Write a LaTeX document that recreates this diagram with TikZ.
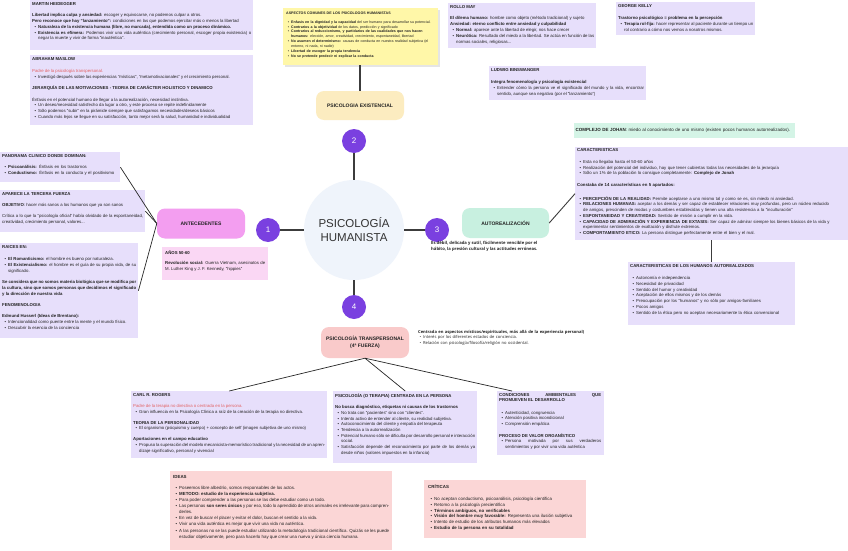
\documentclass[tikz,border=0pt]{standalone}
\usepackage{fontspec}
\setmainfont{Liberation Sans}
\newfontfamily\osans{Open Sans}
\usepackage{enumitem}
\setlist[itemize]{nosep,leftmargin=6pt,labelsep=2pt,label=\textbullet}
\usetikzlibrary{calc}
\definecolor{lav}{RGB}{231,223,251}
\definecolor{orchid}{RGB}{243,158,240}
\definecolor{pinkl}{RGB}{250,215,244}
\definecolor{yelb}{RGB}{252,236,192}
\definecolor{yelp}{RGB}{255,247,168}
\definecolor{mint}{RGB}{200,240,224}
\definecolor{mintl}{RGB}{212,244,230}
\definecolor{salm}{RGB}{249,202,202}
\definecolor{rosel}{RGB}{251,214,214}
\definecolor{purp}{RGB}{122,64,224}
\definecolor{ctrc}{RGB}{239,244,251}
\definecolor{txt}{RGB}{34,34,34}
\definecolor{redt}{RGB}{226,98,98}
\definecolor{lin}{RGB}{60,60,60}
\tikzset{
 boxtext/.style={font=\fontsize{4.3}{5.95}\selectfont, text=txt, align=justify, inner xsep=2pt, inner ysep=2pt, anchor=north west},
 topic/.style={rounded corners=8pt, fill=#1, minimum width=88pt, minimum height=30pt, font=\fontsize{5}{6.5}\selectfont\bfseries, text=txt, align=center, inner sep=0pt},
 num/.style={circle, fill=purp, minimum size=24pt, inner sep=0pt, text=white, font=\fontsize{8}{9}\selectfont},
 link/.style={draw=lin, line width=1.2pt},
 thinlink/.style={draw=black!85, line width=0.7pt},
}
\newcommand{\bx}[9]{%
 \node[fill=#6, anchor=north west, minimum width=#4pt, minimum height=#5pt, inner sep=0pt] (#1) at (#2,#3) {};
 \node[boxtext, text width=#7pt, #8] (#1t) at (#2,#3) {#9};
}
\newcommand{\hd}[2][5.5pt]{\textbf{#2}\par\vspace{#1}}
\begin{document}
\begin{tikzpicture}[x=1pt,y=-1pt]
\useasboundingbox[fill=white] (0,0) rectangle (848,551);

% ---------- boxes ----------
\bx{hei}{30}{0}{223}{50}{lav}{219}{}{%
\hd[5pt]{MARTIN HEIDEGGER}
\textbf{Libertad implica culpa y ansiedad:} escoger y equivocarse, no podemos culpar a otros.\par
\textbf{Pero reconoce que hay "lanzamiento":} condiciones en las que podemos ejercitar más o menos la libertad
\begin{itemize}
\item \textbf{Naturaleza de la existencia humana (libre, no marcada), entendida como un proceso dinámico.}
\item \textbf{Existencia es efímera:} Podemos vivir una vida auténtica (crecimiento personal, escoger propia existencia) o negar la muerte y vivir de forma "inauténtica".
\end{itemize}}

\bx{mas}{30}{55}{223}{70}{lav}{219}{}{%
\hd[6pt]{ABRAHAM MASLOW}
\textcolor{redt}{Padre de la psicología transpersonal.}
\begin{itemize}
\item Investigó después sobre las experiencias "místicas", "metamotivacionales" y el crecimiento personal.
\end{itemize}
\vspace{5pt}
\hd[6pt]{JERARQUÍA DE LAS MOTIVACIONES - TEORIA DE CARÁCTER HOLISTICO Y DINAMICO}
Énfasis en el potencial humano de llegar a la autorealización, necesidad instintiva.
\begin{itemize}
\item Un deseo/necesidad satisfecho da lugar a otro, y este proceso se repite indefinidamente
\item Sólo podemos "subir" en la pirámide siempre que satisfagamos necesidades/deseos básicos
\item Cuando más lejos se llegue en su satisfacción, tanto mejor será la salud, humanidad e individualidad
\end{itemize}}

\bx{pan}{0}{152}{120}{30}{lav}{116}{align=left}{%
\hd{PANORAMA CLINICO DONDE DOMINAN:}
\begin{itemize}
\item \textbf{Psicoanálisis:} Énfasis en los trastornos
\item \textbf{Conductismo:} Énfasis en la conducta y el positivismo
\end{itemize}}

\bx{apa}{0}{190}{145}{42}{lav}{141}{}{%
\hd{APARECE LA TERCERA FUERZA}
\textbf{OBJETIVO}: hacer más sanos a los humanos que ya son sanos\par
\vspace{5pt}
Crítica a lo que la "psicología oficial" había olvidado de la espontaneidad, creatividad, crecimiento personal, valores...}

\bx{rai}{0}{243}{138}{95}{lav}{134}{}{%
\hd[6.5pt]{RAICES EN:}
\begin{itemize}
\item \textbf{El Romanticismo:} el hombre es bueno por naturaleza.
\item \textbf{El Existencialismo:} el hombre es el guía de su propia vida, de su significado.
\end{itemize}
\vspace{5pt}
\textbf{Se considera que no somos materia biológica que se modifica por la cultura, sino que somos personas que decidimos el significado y la dirección de nuestra vida}\par
\vspace{5pt}
\hd[5.5pt]{FENOMENOLOGIA}
\textbf{Edmund Husserl (Ideas de Brentano):}
\begin{itemize}
\item Intencionalidad como puente entre la mente y el mundo físico.
\item Descubrir la esencia de la conciencia
\end{itemize}}

\bx{anos}{162}{247}{106}{33}{pinkl}{100}{inner xsep=3pt, inner ysep=3pt}{%
\hd[5pt]{AÑOS 50-60}
\textbf{Revolución social:} Guerra Vietnam, asesinatos de M. Luther King y J. F. Kennedy, "hippies"}

\fill[black!10] (285,10) rectangle (440,67);
\bx{asp}{283}{8}{155}{57}{yelp}{149}{font=\fontsize{3.6}{4.9}\selectfont, inner xsep=3pt, inner ysep=4pt, align=left}{%
\hd[3.5pt]{ASPECTOS COMUNES DE LOS PSICOLOGOS HUMANISTAS}
\begin{itemize}[leftmargin=5pt]
\item \textbf{Enfasis en la dignidad y la capacidad} del ser humano para desarrollar su potencial.
\item \textbf{Contrarios a la objetividad} de los datos, predicción y significado
\item \textbf{Contrarios al reduccionismo, y partidarios de las cualidades que nos hacen humanos:} elección, amor, creatividad, crecimiento, espontaneidad, libertad
\item \textbf{No asumen el determinismo:} causas de conducta en nuestra realidad subjetiva (el entorno, ni nada, ni nadie)
\item \textbf{Libertad de escoger la propia tendencia}
\item \textbf{No se pretende predecir ni explicar la conducta}
\end{itemize}}

\bx{rol}{448}{3}{148}{45}{lav}{144}{}{%
\hd{ROLLO MAY}
\textbf{El dilema humano:} hombre como objeto (método tradicional) y sujeto\par
\textbf{Ansiedad: eterno conflicto entre ansiedad y culpabilidad}
\begin{itemize}
\item \textbf{Normal:} aparece ante la libertad de elegir, nos hace crecer
\item \textbf{Neurótica:} Resultado del miedo a la libertad. Se actúa en función de las normas sociales, religiosas...
\end{itemize}}

\bx{geo}{616}{2}{139}{33}{lav}{135}{}{%
\hd[6pt]{GEORGE KELLY}
\textbf{Trastorno psicológico = problema en la percepción}
\begin{itemize}
\item \textbf{Terapia rol-fija:} hacer representar al paciente durante un tiempo un rol contrario a cómo nos vemos a nosotros mismos.
\end{itemize}}

\bx{bin}{489}{66}{157}{34}{lav}{153}{}{%
\hd[6pt]{LUDWIG BINSWANGER}
\textbf{Integra fenomenología y psicología existencial}
\begin{itemize}
\item Entender cómo la persona ve el significado del mundo y la vida, encontrar sentido, aunque sea negativa (por el "lanzamiento")
\end{itemize}}

\bx{joh}{574}{123}{221}{15}{mintl}{219}{align=left, inner xsep=1.5pt, inner ysep=4.8pt, font=\fontsize{4.5}{5.7}\selectfont}{%
\textbf{COMPLEJO DE JOHAN}: miedo al conocimiento de uno mismo (existen pocos humanos autorrealizados).}

\bx{car}{575}{147}{277}{93}{lav}{271}{align=left, inner ysep=1.5pt, font=\fontsize{4.3}{5.7}\selectfont}{%
\hd[6pt]{CARACTERISTICAS}
\begin{itemize}
\item Esta no llegaba hasta el 50-60 años
\item Realización del potencial del individuo, hay que tener cubiertas todas las necesidades de la jerarquía
\item Sólo un 1\% de la población lo consigue completamente: \textbf{Complejo de Jonah}
\end{itemize}
\vspace{6pt}
\hd[8pt]{Constaba de 14 características en 5 apartados:}
\begin{itemize}
\item \textbf{PERCEPCIÓN DE LA REALIDAD:} Permite aceptarse a uno mismo tal y como se es, sin miedo ni ansiedad.
\item \textbf{RELACIONES HUMANAS:} aceptar a los demás y ser capaz de establecer relaciones muy profundas, pero un núcleo reducido\linebreak de amigos, prescinden de modas y costumbres establecidas y tienen una alta resistencia a la "inculturación"
\item \textbf{ESPONTANEIDAD Y CREATIVIDAD:} Sentido de misión a cumplir en la vida.
\item \textbf{CAPACIDAD DE ADMIRACIÓN Y EXPERIENCIA DE EXTASIS:} Ser capaz de admirar siempre los bienes básicos de la vida y experimentar sentimientos de exaltación y disfrute extremos.
\item \textbf{COMPORTAMIENTO ETICO:} La persona distingue perfectamente entre el bien y el mal.
\end{itemize}}

\bx{hum}{628}{262}{167}{63}{lav}{163}{align=left, font=\fontsize{4.3}{5.8}\selectfont}{%
\hd[6.5pt]{CARACTERISTICAS DE LOS HUMANOS AUTOREALIZADOS}
\begin{itemize}
\item Autonomía e independencia
\item Necesidad de privacidad
\item Sentido del humor y creatividad
\item Aceptación de ellos mismos y de los demás
\item Preocupación por los "humanos" y no sólo por amigos-familiares
\item Pocos amigos
\item Sentido de la ética pero no aceptan necesariamente la ética convencional
\end{itemize}}

\bx{rog}{131}{391}{196}{67}{lav}{192}{font=\fontsize{4.3}{5.8}\selectfont}{%
\hd[5.5pt]{CARL R. ROGERS}
\textcolor{redt}{Padre de la terapia no directiva o centrada en la persona.}
\begin{itemize}
\item Gran influencia en la Psicología Clínica a raíz de la creación de la terapia no directiva.
\end{itemize}
\vspace{5pt}
\textbf{TEORIA DE LA PERSONALIDAD}
\begin{itemize}
\item El organismo (psiquismo y cuerpo) + concepto de self (imagen subjetiva de uno mismo)
\end{itemize}
\vspace{5pt}
\textbf{Aportaciones en el campo educativo}
\begin{itemize}
\item Propuso la superación del modelo mecanicista-memorístico tradicional y la necesidad de un aprendizaje significativo, personal y vivencial
\end{itemize}}

\bx{pcp}{333}{391}{144}{72}{lav}{140}{font=\fontsize{4.3}{5.7}\selectfont}{%
\hd[6pt]{PSICOLOGÍA (O TERAPIA) CENTRADA EN LA PERSONA}
\textbf{No busca diagnóstico, etiquetas ni causas de los trastornos}
\begin{itemize}
\item No trata con "pacientes" sino con "clientes".
\item Intento activo de entender al cliente, su realidad subjetiva.
\item Autoconocimiento del cliente y empatía del terapeuta
\item Tendencia a la autorrealización
\item Potencial humano sólo se dificulta por desarrollo personal e interacción social.
\item Satisfacción depende del reconocimiento por parte de los demás ya desde niños (valores impuestos en la infancia)
\end{itemize}}

\bx{con}{497}{391}{107}{64}{lav}{102}{font=\fontsize{4.3}{5.7}\selectfont}{%
\textbf{CONDICIONES AMBIENTALES QUE\linebreak PROMUEVEN EL DESARROLLO}\par\vspace{6.5pt}
\begin{itemize}
\item Autenticidad, congruencia
\item Atención positiva incondicional
\item Comprensión empática
\end{itemize}
\vspace{6pt}
\textbf{PROCESO DE VALOR ORGANÍSTICO}
\begin{itemize}
\item Persona motivada por sus verdaderos\linebreak sentimientos y por vivir una vida auténtica
\end{itemize}}

\bx{ide}{170}{471}{222}{79}{rosel}{216}{font=\fontsize{4.4}{6.1}\selectfont, inner xsep=3pt, inner ysep=4pt}{%
\hd[5pt]{IDEAS}
\begin{itemize}
\item Poseemos libre albedrío, somos responsables de los actos.
\item \textbf{METODO: estudio de la experiencia subjetiva.}
\item Para poder comprender a las personas se las debe estudiar como un todo.
\item Las personas \textbf{son seres únicos} y por eso, todo lo aprendido de otros animales es irrelevante para comprenderles.
\item En vez de buscar el placer y evitar el dolor, buscan el sentido a la vida.
\item Vivir una vida auténtica es mejor que vivir una vida no auténtica.
\item A las personas no se las puede estudiar utilizando la metodología tradicional científica. Quizás se les puede estudiar objetivamente, pero para hacerlo hay que crear una nueva y única ciencia humana.
\end{itemize}}

\bx{cri}{424}{480}{162}{58}{rosel}{155}{font=\fontsize{4.4}{5.7}\selectfont, inner xsep=4pt, inner ysep=4pt, align=left}{%
\hd[7pt]{CRÍTICAS}
\begin{itemize}
\item No aceptan conductismo, psicoanálisis, psicología científica
\item Retorno a la psicología precientífica
\item \textbf{Términos ambiguos, no verificables}
\item \textbf{Visión del hombre muy favorable:} Representa una ilusión subjetiva
\item Intento de estudio de los atributos humanos más elevados
\item \textbf{Estudio de la persona en su totalidad}
\end{itemize}}

% ---------- central structure ----------
\node[circle, fill=ctrc, minimum size=100pt, inner sep=0pt, align=center, text=black!80, font=\fontsize{11.5}{14}\selectfont] (ctr) at (354,230) {PSICOLOGÍA\\HUMANISTA};
\node[num] (c1) at (268,230) {1};
\node[num] (c2) at (354,141) {2};
\node[num] (c3) at (437,230) {3};
\node[num] (c4) at (354,307) {4};

\node[topic=orchid] (ant) at (201,223.5) {ANTECEDENTES};
\node[topic=yelb, minimum height=29pt] (exi) at (360,105.5) {PSICOLOGIA EXISTENCIAL};
\node[topic=mint, minimum width=87pt] (aut) at (505.5,223) {AUTOREALIZACIÓN};
\node[topic=salm, minimum height=31pt] (tra) at (365,342.5) {PSICOLOGÍA TRANSPERSONAL\\(4ª FUERZA)};

\node[anchor=north west, inner sep=0pt, align=left, text=txt, font=\osans\bfseries\fontsize{4.2}{6.4}\selectfont] (deb) at (431,241) {Es débil, delicada y sutil, fácilmente vencible por el\\hábito, la presión cultural y las actitudes erróneas.};

\node[anchor=north west, inner sep=0pt, text width=195pt, align=left, text=txt, font=\osans\fontsize{4.1}{5.6}\selectfont] (cen) at (418,330) {%
\textbf{Centrada en aspectos místicos/espirituales, más allá de la experiencia personal)}
\begin{itemize}[leftmargin=5pt]
\item Interés por los diferentes estados de conciencia.
\item Relación con psicología/filosofía/religión no occidental.
\end{itemize}};

% ---------- connectors ----------
\draw[link] (c1) -- (ctr);
\draw[link] (c2) -- (ctr);
\draw[link] (c3) -- (ctr);
\draw[link] (c4) -- (ctr);
\draw[link] (exi.north) -- (exi.north |- asp.south);
\draw[thinlink] (ant.west) -- (pan.east);
\draw[thinlink] (ant.west) -- (apa.east);
\draw[thinlink] (ant.west) -- (rai.east);
\draw[link, line width=0.9pt] (aut.east) -- (car.west);
\draw[link, line width=1pt] (hum.north |- car.south) -- (hum.north);
\coordinate (contop) at ($(con.north west)+(15,0)$);
\draw[thinlink] (tra.south) -- (rog.north);
\draw[thinlink] (tra.south) -- (pcp.north);
\draw[thinlink] (tra.south) -- (contop);
\end{tikzpicture}
\end{document}
